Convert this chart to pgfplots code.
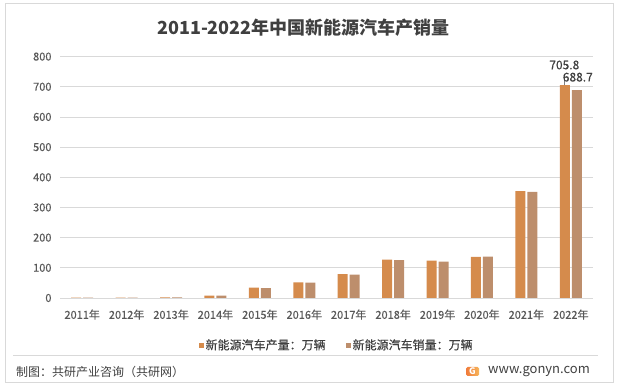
\documentclass[border=0pt]{standalone}
\usepackage{pgfplots}
\pgfplotsset{compat=1.18}
\usepackage{fontspec}
\setmainfont{Noto Sans CJK SC}
\newfontfamily\medfont[FakeBold=0.35]{Noto Sans CJK SC}
\definecolor{prodc}{HTML}{D58B4C}
\definecolor{salec}{HTML}{BD8E6C}
\definecolor{gridc}{HTML}{D9D9D9}
\definecolor{txtc}{HTML}{404040}
\definecolor{tickc}{HTML}{595959}
\definecolor{logoa}{HTML}{F07A3A}
\definecolor{logob}{HTML}{F7B55A}
\begin{document}
\begin{tikzpicture}[x=1pt,y=1pt]
\path (0,0) rectangle (621,390);
\draw[gridc,line width=1pt] (5,7) rectangle (613,386);
\draw[gridc,line width=0.8pt] (13,35) -- (598,35);
\node[text=txtc,font=\fontsize{18}{20}\selectfont\bfseries] at (303.5,362.5) {2011-2022年中国新能源汽车产销量};
\begin{axis}[
  at={(60pt,92pt)}, anchor=south west,
  scale only axis, width=533pt, height=241.4pt,
  ybar=2pt, bar width=10pt,
  xmin=-0.5, xmax=11.5, ymin=0, ymax=800,
  ytick={0,100,...,800},
  xtick={0,...,11},
  xticklabels={2011年,2012年,2013年,2014年,2015年,2016年,2017年,2018年,2019年,2020年,2021年,2022年},
  ymajorgrids, grid style={gridc,line width=0.8pt},
  axis line style={draw=none}, major tick length=0pt,
  tick label style={text=tickc,font=\fontsize{11}{13}\medfont},
  /pgf/number format/assume math mode=true,
  yticklabel style={xshift=-5pt},
  xticklabel style={yshift=-8pt},
  legend columns=2,
  legend style={at={(0.519,-0.195)},anchor=center,draw=none,fill=none,
    font=\fontsize{12}{14}\medfont,text=txtc,
    nodes={inner xsep=2pt},
    /tikz/every even column/.append style={column sep=18pt},
    inner sep=0pt},
  legend image code/.code={\fill[#1,draw=none] (0pt,-2.5pt) rectangle (5pt,2.5pt);},
  clip=false,
]
\addplot[fill=prodc,draw=none] coordinates {(0,0.84) (1,1.28) (2,1.75) (3,7.85) (4,34.0) (5,51.7) (6,79.4) (7,127.0) (8,124.2) (9,136.6) (10,354.5) (11,705.8)};
\addplot[fill=salec,draw=none] coordinates {(0,0.82) (1,1.28) (2,1.76) (3,7.48) (4,33.1) (5,50.7) (6,77.7) (7,125.6) (8,120.6) (9,136.7) (10,352.1) (11,688.7)};
\legend{新能源汽车产量：万辆,新能源汽车销量：万辆}
\draw[gray,line width=0.6pt] ([xshift=-6pt]axis cs:11,705.8) -- ([xshift=-6pt,yshift=11pt]axis cs:11,705.8);
\node[text=txtc,font=\fontsize{12}{14}\medfont] at ([xshift=-6.5pt,yshift=20pt]axis cs:11,705.8) {705.8};
\node[text=txtc,font=\fontsize{12}{14}\medfont] at ([xshift=7pt,yshift=13pt]axis cs:11,688.7) {688.7};
\end{axis}
\node[anchor=west,text=txtc,font=\fontsize{12}{14}\selectfont,inner sep=0pt] at (16,18) {制图：共研产业咨询（共研网）};
\shade[left color=logoa,right color=logob,rounded corners=1.5pt] (466,14) rectangle (479,23);
\node[text=white,font=\fontsize{9}{9}\selectfont\bfseries,inner sep=0pt] at (472.5,18.5) {G};
\node[anchor=west,text=txtc,font=\fontsize{13}{15}\selectfont,inner sep=0pt] at (488,18) {www.gonyn.com};
\end{tikzpicture}
\end{document}
